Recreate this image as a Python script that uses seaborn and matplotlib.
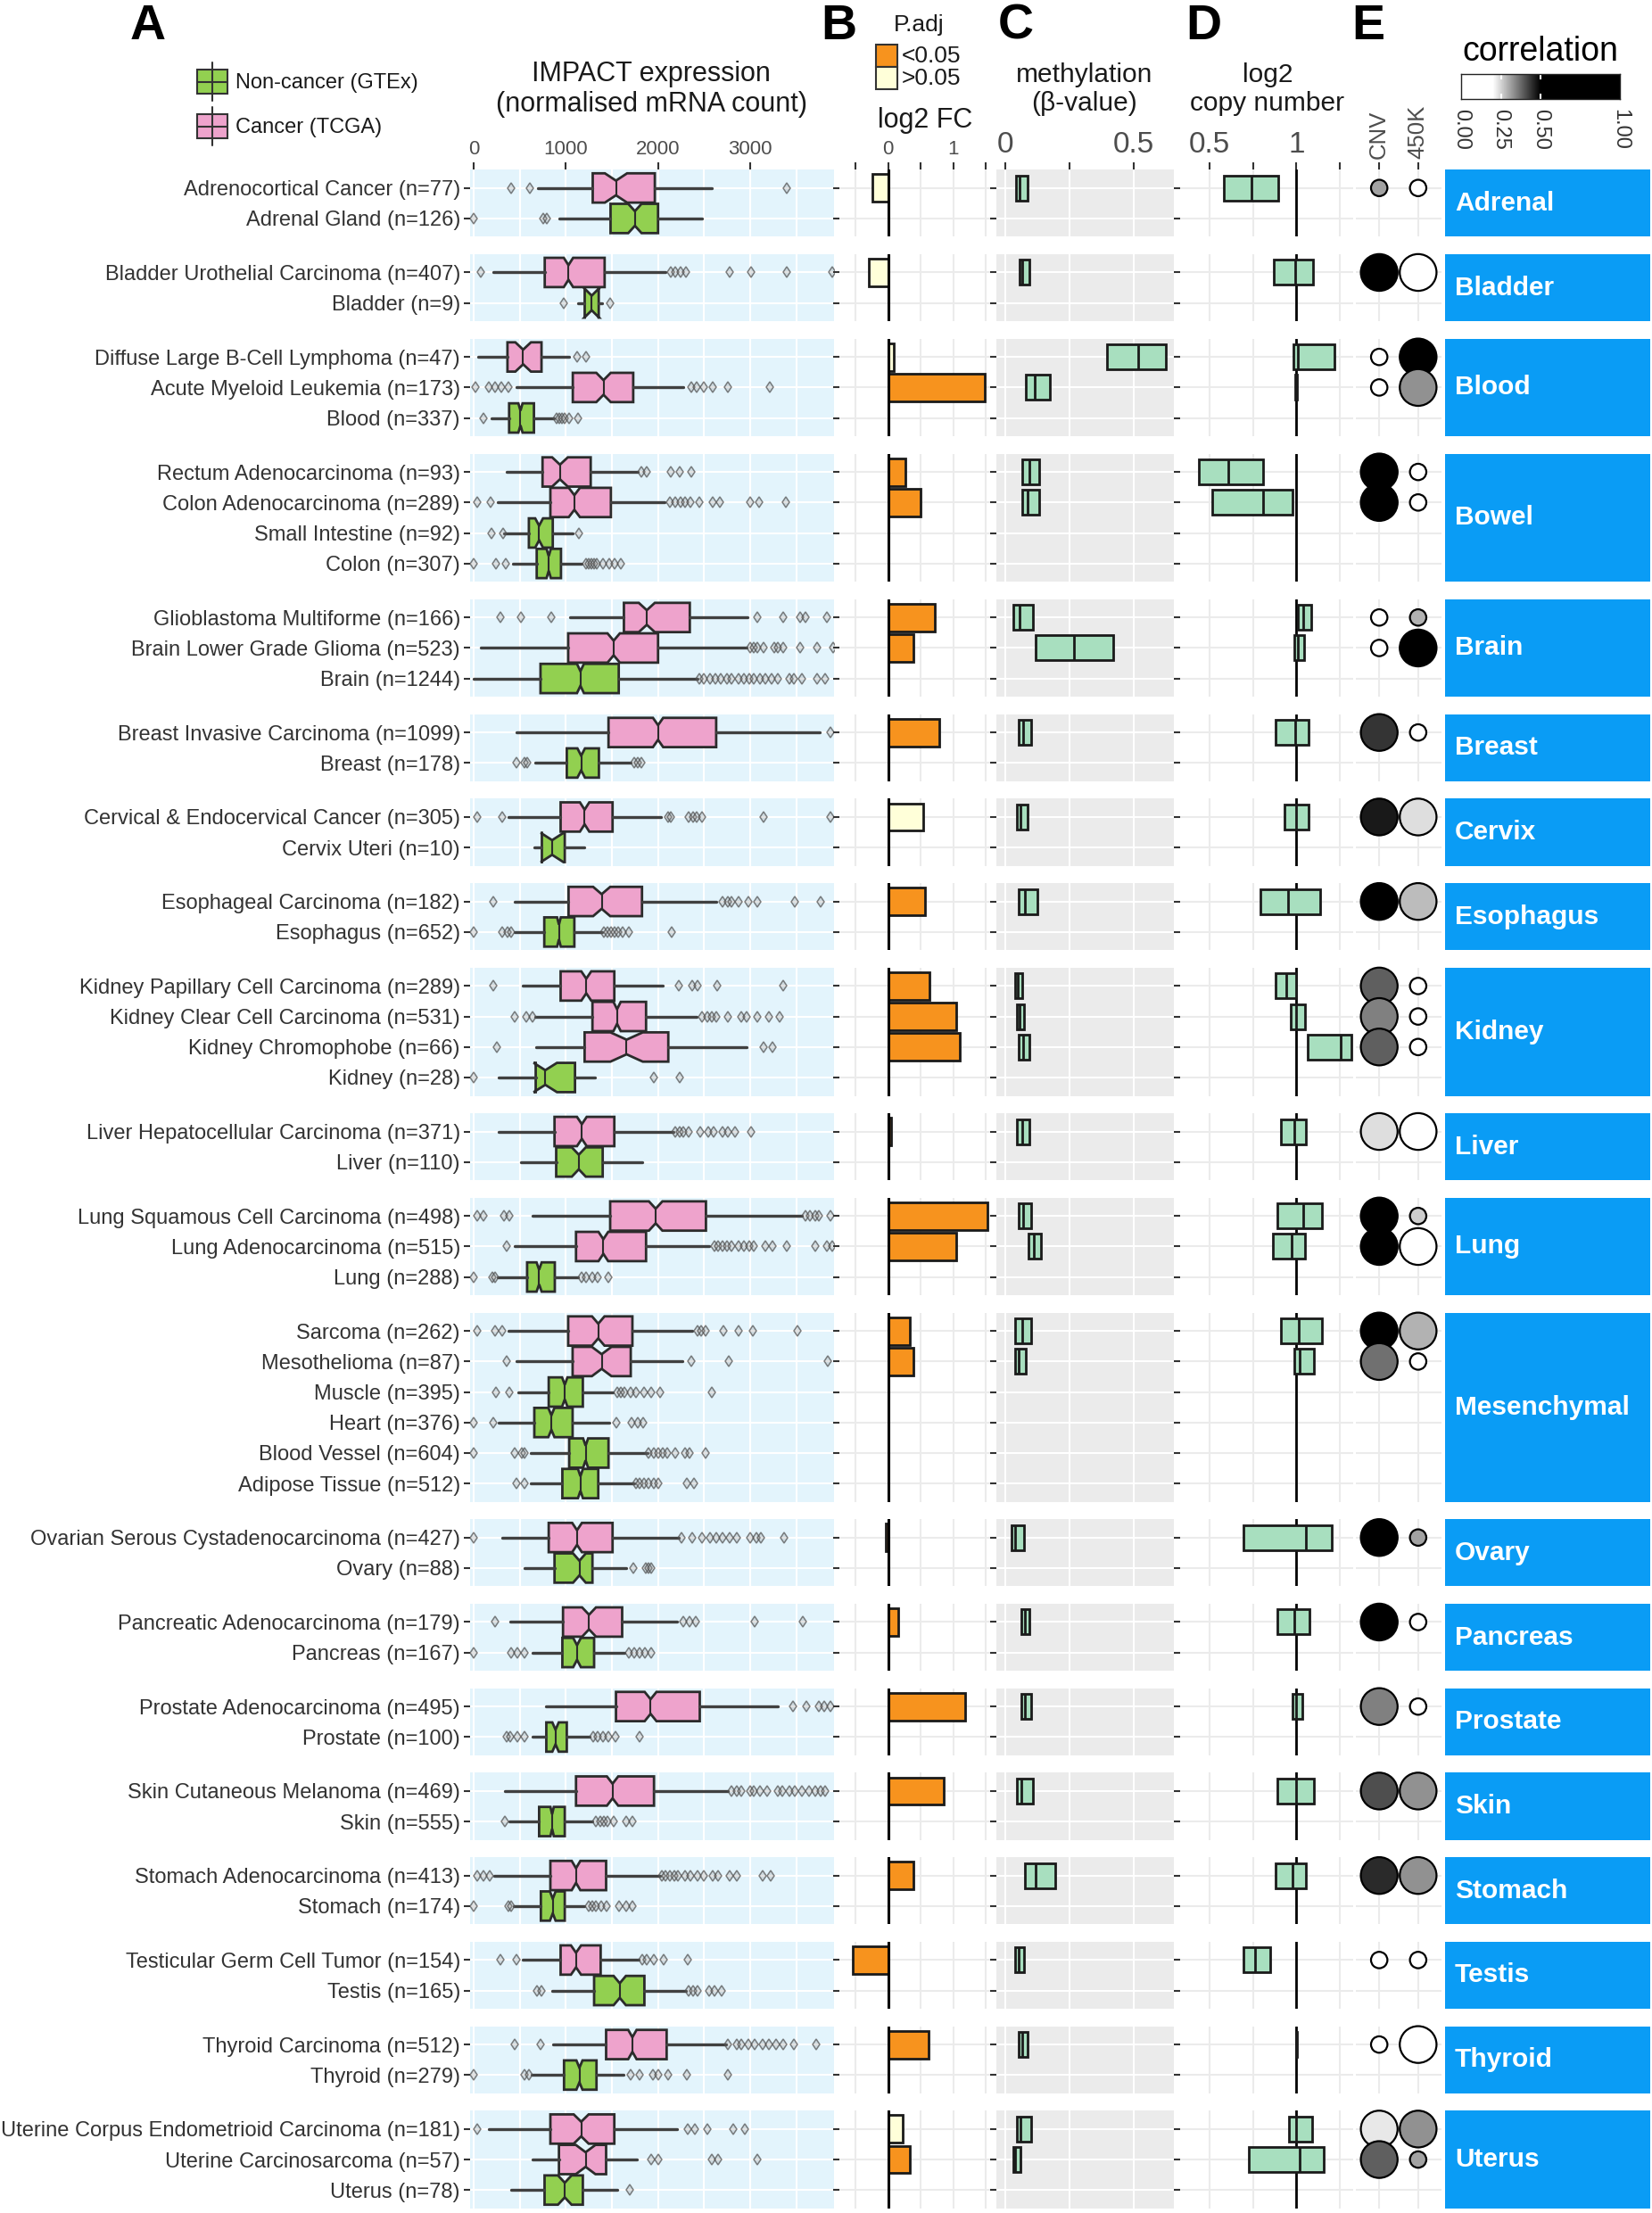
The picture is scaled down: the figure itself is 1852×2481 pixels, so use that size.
import numpy as np
import pandas as pd
import matplotlib
matplotlib.use("Agg")
import matplotlib.pyplot as plt
from matplotlib.colors import LinearSegmentedColormap
from matplotlib.patches import Rectangle
from matplotlib.lines import Line2D
import seaborn as sns

# ---------------- data ----------------
group_names = ["Adrenal", "Bladder", "Blood", "Bowel", "Brain", "Breast", "Cervix", "Esophagus",
               "Kidney", "Liver", "Lung", "Mesenchymal", "Ovary", "Pancreas", "Prostate", "Skin",
               "Stomach", "Testis", "Thyroid", "Uterus"]
group_sizes = [2, 2, 3, 4, 3, 2, 2, 2, 4, 2, 3, 6, 2, 2, 2, 2, 2, 2, 2, 3]

row_names = [
    "Adrenocortical Cancer", "Adrenal Gland",
    "Bladder Urothelial Carcinoma", "Bladder",
    "Diffuse Large B-Cell Lymphoma", "Acute Myeloid Leukemia", "Blood",
    "Rectum Adenocarcinoma", "Colon Adenocarcinoma", "Small Intestine", "Colon",
    "Glioblastoma Multiforme", "Brain Lower Grade Glioma", "Brain",
    "Breast Invasive Carcinoma", "Breast",
    "Cervical & Endocervical Cancer", "Cervix Uteri",
    "Esophageal Carcinoma", "Esophagus",
    "Kidney Papillary Cell Carcinoma", "Kidney Clear Cell Carcinoma", "Kidney Chromophobe", "Kidney",
    "Liver Hepatocellular Carcinoma", "Liver",
    "Lung Squamous Cell Carcinoma", "Lung Adenocarcinoma", "Lung",
    "Sarcoma", "Mesothelioma", "Muscle", "Heart", "Blood Vessel", "Adipose Tissue",
    "Ovarian Serous Cystadenocarcinoma", "Ovary",
    "Pancreatic Adenocarcinoma", "Pancreas",
    "Prostate Adenocarcinoma", "Prostate",
    "Skin Cutaneous Melanoma", "Skin",
    "Stomach Adenocarcinoma", "Stomach",
    "Testicular Germ Cell Tumor", "Testis",
    "Thyroid Carcinoma", "Thyroid",
    "Uterine Corpus Endometrioid Carcinoma", "Uterine Carcinosarcoma", "Uterus",
]
row_n = [77, 126, 407, 9, 47, 173, 337, 93, 289, 92, 307, 166, 523, 1244, 1099, 178, 305, 10,
         182, 652, 289, 531, 66, 28, 371, 110, 498, 515, 288, 262, 87, 395, 376, 604, 512,
         427, 88, 179, 167, 495, 100, 469, 555, 413, 174, 154, 165, 512, 279, 181, 57, 78]
row_cancer = [1, 0, 1, 0, 1, 1, 0, 1, 1, 0, 0, 1, 1, 0, 1, 0, 1, 0, 1, 0, 1, 1, 1, 0, 1, 0,
              1, 1, 0, 1, 1, 0, 0, 0, 0, 1, 0, 1, 0, 1, 0, 1, 0, 1, 0, 1, 0, 1, 0, 1, 1, 0]

# IMPACT expression box statistics
expr_whislo = [696, 930, 211, 1135, 53, 462, 199, 359, 259, 326, 426, 1048, 81, 0, 463, 667,
               381, 659, 444, 444, 530, 667, 678, 270, 270, 511, 641, 444, 259, 381, 463, 481,
               270, 622, 622, 315, 556, 400, 641, 785, 641, 341, 393, 222, 437, 537, 852, 859,
               630, 167, 641, 407]
expr_q1 = [1292, 1485, 772, 1205, 368, 1076, 386, 748, 833, 600, 685, 1630, 1026, 726, 1463,
           1011, 944, 741, 1030, 767, 944, 1289, 1204, 674, 878, 896, 1481, 1111, 581, 1026,
           1074, 815, 659, 1037, 963, 815, 878, 970, 963, 1544, 789, 1111, 711, 833, 730, 944,
           1307, 1437, 981, 833, 926, 770]
expr_med = [1544, 1749, 1029, 1281, 538, 1409, 509, 937, 1093, 711, 815, 1878, 1519, 1159, 2000,
            1167, 1204, 852, 1389, 926, 1222, 1556, 1659, 778, 1174, 1141, 1974, 1407, 711, 1352,
            1389, 989, 844, 1215, 1159, 1122, 1148, 1252, 1122, 1919, 889, 1507, 852, 1111, 859,
            1111, 1585, 1722, 1148, 1167, 1215, 989]
expr_q3 = [1965, 2000, 1421, 1357, 737, 1731, 655, 1270, 1489, 859, 948, 2344, 2000, 1574, 2630,
           1359, 1507, 989, 1826, 1093, 1526, 1870, 2111, 1100, 1526, 1400, 2519, 1870, 881, 1722,
           1704, 1185, 1074, 1463, 1352, 1507, 1289, 1611, 1307, 2452, 1011, 1956, 989, 1437, 989,
           1378, 1852, 2093, 1333, 1526, 1437, 1185]
expr_whishi = [2585, 2480, 2082, 1395, 1035, 2275, 871, 1785, 2074, 1074, 1167, 2970, 2956, 2426,
               3748, 1704, 2030, 1204, 2630, 1389, 2048, 2419, 2956, 1315, 2167, 1833, 3556, 2556,
               1130, 2370, 2259, 1507, 1470, 1889, 1741, 2222, 1659, 2204, 1637, 3296, 1259, 2752,
               1289, 2019, 1204, 1789, 2304, 2741, 1630, 2204, 1774, 1556]
expr_fliers = [
    [409, 608, 3398], [0, 755, 795],
    [82, 2140, 2190, 2240, 2300, 2772, 3006, 3398, 3883], [977, 1485],
    [1123, 1222], [18, 170, 230, 300, 374, 2362, 2420, 2500, 2596, 2760, 3210],
    [111, 900, 930, 960, 990, 1040, 1134],
    [1815, 1878, 2140, 2233, 2363],
    [37, 185, 2130, 2185, 2240, 2290, 2350, 2444, 2593, 2667, 3000, 3093, 3389],
    [193, 320, 1141],
    [0, 248, 352, 1222, 1250, 1280, 1310, 1333, 1407, 1470, 1530, 1593],
    [296, 511, 844, 3074, 3352, 3537, 3593, 3833],
    [3000, 3040, 3080, 3148, 3259, 3300, 3352, 3544, 3722, 3900],
    [2450, 2500, 2560, 2620, 2680, 2750, 2800, 2870, 2930, 2990, 3040, 3100, 3160, 3230, 3300,
     3426, 3470, 3556, 3722, 3815],
    [3870], [463, 556, 585, 1740, 1780, 1815],
    [37, 315, 2111, 2140, 2333, 2380, 2420, 2481, 3141, 3870], [],
    [211, 2700, 2760, 2800, 2870, 2980, 3074, 3481, 3759],
    [0, 315, 370, 410, 1410, 1450, 1490, 1530, 1570, 1620, 1685, 2148],
    [211, 2222, 2370, 2426, 2641, 3352],
    [444, 574, 640, 2481, 2530, 2580, 2630, 2752, 2900, 2960, 3074, 3204, 3315],
    [252, 3141, 3241], [0, 1956, 2233],
    [2190, 2230, 2270, 2333, 2456, 2540, 2600, 2700, 2760, 2833, 3011], [],
    [37, 111, 333, 389, 3600, 3650, 3700, 3741, 3870],
    [363, 2611, 2650, 2700, 2750, 2800, 2870, 2930, 2990, 3037, 3167, 3241, 3396, 3704, 3833, 3889],
    [0, 204, 230, 1167, 1220, 1290, 1350, 1463],
    [37, 230, 315, 2426, 2470, 2519, 2704, 2870, 3030, 3511],
    [363, 2363, 2770, 3844],
    [248, 389, 1556, 1600, 1640, 1700, 1760, 1852, 1926, 2018, 2581],
    [0, 211, 1544, 1715, 1780, 1840],
    [0, 444, 520, 556, 1900, 1950, 2000, 2050, 2100, 2185, 2296, 2340, 2511],
    [463, 548, 1760, 1800, 1850, 1900, 1950, 2000, 2315, 2389],
    [0, 2250, 2370, 2481, 2560, 2630, 2700, 2780, 2850, 3000, 3070, 3111, 3370],
    [1730, 1870, 1900, 1926],
    [233, 2278, 2340, 2407, 3048, 3567],
    [0, 407, 480, 556, 1685, 1740, 1800, 1860, 1926],
    [3463, 3604, 3741, 3800, 3870],
    [363, 400, 480, 556, 1300, 1350, 1400, 1460, 1537, 1804],
    [2796, 2850, 2900, 3000, 3040, 3100, 3180, 3300, 3350, 3420, 3480, 3560, 3640, 3700, 3760, 3815],
    [337, 1330, 1370, 1410, 1450, 1519, 1652, 1726],
    [37, 111, 180, 2037, 2080, 2130, 2180, 2220, 2290, 2350, 2430, 2500, 2592, 2650, 2780, 2852,
     3130, 3222],
    [0, 374, 410, 1252, 1290, 1330, 1380, 1444, 1574, 1650, 1722],
    [296, 463, 1830, 1880, 1950, 2056, 2322],
    [685, 733, 2333, 2380, 2430, 2550, 2610, 2685],
    [444, 722, 2759, 2850, 2900, 2980, 3050, 3130, 3200, 3280, 3352, 3474, 3715],
    [0, 548, 600, 1704, 1796, 1944, 2000, 2111, 2315, 2752],
    [37, 2322, 2400, 2537, 2815, 2944],
    [1926, 2000, 2581, 2648, 3074],
    [1696],
]

# values for the 28 cancer rows (same order as they appear)
log2_fc = [-0.24, -0.30, 0.08, 1.49, 0.26, 0.50, 0.72, 0.39, 0.79, 0.54, 0.57, 0.64, 1.04, 1.10,
           0.05, 1.53, 1.04, 0.33, 0.39, -0.04, 0.15, 1.18, 0.86, 0.39, -0.54, 0.62, 0.22, 0.33]
padj_low = [0, 0, 0, 1, 1, 1, 1, 1, 1, 0, 1, 1, 1, 1, 1, 1, 1, 1, 1, 1, 1, 1, 1, 1, 1, 1, 0, 1]

meth_q1 = [0.042, 0.056, 0.395, 0.081, 0.066, 0.066, 0.033, 0.119, 0.053, 0.046, 0.053, 0.038,
           0.045, 0.053, 0.046, 0.053, 0.093, 0.038, 0.038, 0.026, 0.063, 0.063, 0.046, 0.078,
           0.038, 0.053, 0.046, 0.033]
meth_med = [0.057, 0.066, 0.516, 0.115, 0.094, 0.088, 0.058, 0.268, 0.071, 0.061, 0.079, 0.050,
            0.058, 0.071, 0.066, 0.071, 0.113, 0.066, 0.055, 0.041, 0.079, 0.079, 0.063, 0.119,
            0.053, 0.066, 0.061, 0.041]
meth_q3 = [0.088, 0.094, 0.623, 0.174, 0.132, 0.132, 0.108, 0.420, 0.103, 0.088, 0.127, 0.068,
           0.075, 0.094, 0.094, 0.101, 0.141, 0.101, 0.081, 0.075, 0.096, 0.103, 0.108, 0.194,
           0.075, 0.088, 0.101, 0.061]

cn_q1 = [0.586, 0.871, 0.980, 0.995, 0.439, 0.517, 1.007, 0.990, 0.880, 0.929, 0.794, 0.880,
         0.968, 1.064, 0.909, 0.890, 0.863, 0.909, 0.990, 0.696, 0.890, 0.978, 0.890, 0.880,
         0.696, 0.998, 0.958, 0.725]
cn_med = [0.741, 0.995, 1.010, 1.000, 0.610, 0.806, 1.037, 1.010, 0.995, 1.000, 0.951, 0.939,
          1.000, 1.255, 0.990, 1.037, 0.971, 1.012, 1.020, 1.056, 0.990, 1.000, 1.000, 0.978,
          0.765, 1.000, 1.000, 1.020]
cn_q3 = [0.896, 1.094, 1.220, 1.003, 0.806, 0.978, 1.086, 1.044, 1.069, 1.069, 1.135, 1.000,
         1.049, 1.316, 1.056, 1.147, 1.049, 1.147, 1.098, 1.203, 1.076, 1.032, 1.098, 1.056,
         0.848, 1.005, 1.088, 1.154]

cnv_r = [0.31, 0.60, 0.00, 0.00, 0.60, 0.60, 0.00, 0.00, 0.44, 0.47, 0.60, 0.39, 0.35, 0.39,
         0.24, 0.60, 0.60, 0.60, 0.37, 0.60, 0.60, 0.35, 0.41, 0.45, 0.00, 0.00, 0.23, 0.39]
cnv_sig = [0, 1, 0, 0, 1, 1, 0, 0, 1, 1, 1, 1, 1, 1, 1, 1, 1, 1, 1, 1, 1, 1, 1, 1, 0, 0, 1, 1]
meth_r = [0.00, -0.30, 0.60, 0.33, 0.00, 0.00, 0.29, 0.60, 0.00, 0.24, 0.28, 0.00, 0.00, 0.00,
          -0.20, 0.26, -0.20, 0.29, 0.00, 0.31, 0.00, 0.00, 0.33, 0.33, 0.00, -0.20, 0.33, 0.31]
meth_sig = [0, 1, 1, 1, 0, 0, 0, 1, 0, 1, 1, 0, 0, 0, 1, 0, 1, 1, 0, 0, 0, 0, 1, 1, 0, 1, 1, 0]

# ---------------- style ----------------
sns.set_style("white")
plt.rcParams['font.family'] = ['Liberation Sans', 'DejaVu Sans']

PINK, GREEN = '#eea3cc', '#92d050'
MINT = '#a8dfbf'
ORANGE, CREAM = '#f7931e', '#ffffd9'
STRIP = '#0a9cf5'
EDGE = '#2b2b2b'
corr_cmap = LinearSegmentedColormap.from_list(
    'corr', [(0, 'white'), (0.2, 'white'), (0.5, 'black'), (1, 'black')])

W, H = 1852, 2481
fig = plt.figure(figsize=(W / 100, H / 100), dpi=100)


def px_axes(x0, y0, w, h):
    return fig.add_axes([x0 / W, 1 - (y0 + h) / H, w / W, h / H])


def hbox(ax, stats, pos, width, **kw):
    try:
        return ax.bxp(stats, positions=pos, widths=width, orientation='horizontal',
                      manage_ticks=False, **kw)
    except TypeError:
        return ax.bxp(stats, positions=pos, widths=width, vert=False, manage_ticks=False, **kw)


def base_axis(ax, n, xlim, face, grid_col, xt, xt_minor=(), left_ticks=True):
    ax.set_facecolor(face)
    for s in ax.spines.values():
        s.set_visible(False)
    ax.set_xlim(*xlim)
    ax.set_ylim(n - 0.4, -0.6)
    ax.set_xticks(xt)
    ax.set_xticks(list(xt_minor), minor=True)
    ax.set_yticks(range(n))
    ax.grid(True, which='both', color=grid_col, linewidth=1.5)
    ax.set_axisbelow(True)
    ax.tick_params(axis='x', which='both', bottom=False, labelbottom=False, top=False, labeltop=False)
    ax.tick_params(axis='x', which='minor', length=0)
    ax.tick_params(axis='y', left=left_ticks, labelleft=False, length=5, width=1.5, color='#333333')


def top_axis(ax, labels, size, rot=0):
    ax.set_xticklabels(labels)
    ax.tick_params(axis='x', which='major', top=True, labeltop=True, length=6, width=1.5,
                   color='#333333', labelsize=size, labelcolor='#4d4d4d', pad=3, labelrotation=rot)


TOP, U, GAP = 190.2, 34.2, 0.57
XA, XB, XC, XD, XE, XS = (527, 935), (941, 1111), (1117, 1316), (1323, 1517), (1520, 1616), (1620, 1850)
cancer_pos = np.cumsum(row_cancer) - 1

y_top = TOP
row0 = 0
for g, (gname, n) in enumerate(zip(group_names, group_sizes)):
    h = (n + 0.2) * U
    rows = list(range(row0, row0 + n))
    first = g == 0
    c_rows = [i for i, r in enumerate(rows) if row_cancer[r]]
    c_idx = [cancer_pos[rows[i]] for i in c_rows]

    # --- A: expression boxplots ---
    axA = px_axes(XA[0], y_top, XA[1] - XA[0], h)
    base_axis(axA, n, (-37, 3907), '#e3f4fc', 'white', [0, 1000, 2000, 3000], [500, 1500, 2500, 3500])
    stats = []
    for r in rows:
        half = 1.57 * (expr_q3[r] - expr_q1[r]) / np.sqrt(row_n[r])
        stats.append(dict(med=expr_med[r], q1=expr_q1[r], q3=expr_q3[r],
                          whislo=expr_whislo[r], whishi=expr_whishi[r],
                          fliers=np.array(expr_fliers[r], dtype=float),
                          cilo=expr_med[r] - half, cihi=expr_med[r] + half))
    bp = hbox(axA, stats, list(range(n)), 0.96, patch_artist=True, shownotches=True,
              showcaps=False,
              boxprops=dict(edgecolor=EDGE, linewidth=2),
              whiskerprops=dict(color='#404040', linewidth=2.4),
              medianprops=dict(color=EDGE, linewidth=1.5),
              flierprops=dict(marker='d', markerfacecolor=(0.55, 0.55, 0.55, 0.25),
                              markeredgecolor=(0.3, 0.3, 0.3, 0.7),
                              markersize=6, markeredgewidth=1.1))
    for patch, r in zip(bp['boxes'], rows):
        patch.set_facecolor(PINK if row_cancer[r] else GREEN)
    axA.set_yticklabels([f"{row_names[r]} (n={row_n[r]})" for r in rows])
    axA.tick_params(axis='y', labelleft=True, labelsize=17, labelcolor='#333333', pad=3)
    if first:
        top_axis(axA, ['0', '1000', '2000', '3000'], 16)

    # --- B: log2 fold change bars ---
    axB = px_axes(XB[0], y_top, XB[1] - XB[0], h)
    base_axis(axB, n, (-0.75, 1.58), 'white', '#ebebeb', [-0.5, 0, 0.5, 1, 1.5])
    axB.barh(c_rows, [log2_fc[k] for k in c_idx], height=0.9,
             color=[ORANGE if padj_low[k] else CREAM for k in c_idx],
             edgecolor='#1a1a1a', linewidth=2, zorder=2)
    axB.axvline(0, color='black', linewidth=2.2, zorder=3)
    if first:
        top_axis(axB, ['', '0', '', '1', ''], 16)

    # --- C: methylation ---
    axC = px_axes(XC[0], y_top, XC[1] - XC[0], h)
    base_axis(axC, n, (-0.033, 0.655), '#ebebeb', 'white', [0, 0.25, 0.5])
    if c_rows:
        st = [dict(med=meth_med[k], q1=meth_q1[k], q3=meth_q3[k], whislo=meth_q1[k],
                   whishi=meth_q3[k], fliers=[]) for k in c_idx]
        hbox(axC, st, c_rows, 0.82, patch_artist=True, showcaps=False, showfliers=False,
             boxprops=dict(facecolor=MINT, edgecolor='#1a1a1a', linewidth=2),
             medianprops=dict(color='#1a1a1a', linewidth=2),
             whiskerprops=dict(linewidth=0))
    if first:
        top_axis(axC, ['0', '', '0.5'], 24)

    # --- D: copy number ---
    axD = px_axes(XD[0], y_top, XD[1] - XD[0], h)
    base_axis(axD, n, (0.333, 1.325), 'white', '#ebebeb', [0.5, 0.75, 1, 1.25])
    axD.axvline(1, color='black', linewidth=2, zorder=1.5)
    if c_rows:
        st = [dict(med=cn_med[k], q1=cn_q1[k], q3=cn_q3[k], whislo=cn_q1[k],
                   whishi=cn_q3[k], fliers=[]) for k in c_idx]
        hbox(axD, st, c_rows, 0.82, patch_artist=True, showcaps=False, showfliers=False,
             boxprops=dict(facecolor=MINT, edgecolor='#1a1a1a', linewidth=2),
             medianprops=dict(color='#1a1a1a', linewidth=2),
             whiskerprops=dict(linewidth=0))
    if first:
        top_axis(axD, ['0.5', '', '1', ''], 24)

    # --- E: correlation circles ---
    axE = px_axes(XE[0], y_top, XE[1] - XE[0], h)
    base_axis(axE, n, (-0.6, 1.6), 'white', '#ebebeb', [0, 1], left_ticks=False)
    if c_rows:
        sub = pd.DataFrame({
            'x': [0] * len(c_idx) + [1] * len(c_idx),
            'y': c_rows + c_rows,
            'r': [cnv_r[k] for k in c_idx] + [meth_r[k] for k in c_idx],
            'sig': ['sig' if cnv_sig[k] else 'ns' for k in c_idx]
                   + ['sig' if meth_sig[k] else 'ns' for k in c_idx],
        })
        sns.scatterplot(data=sub, x='x', y='y', hue='r', palette=corr_cmap, hue_norm=(0, 1),
                        size='sig', sizes={'sig': 880, 'ns': 175}, edgecolor='black',
                        linewidth=1.6, legend=False, ax=axE, zorder=3, clip_on=False)
    axE.set_xlim(-0.6, 1.6)
    axE.set_ylim(n - 0.4, -0.6)
    axE.set_xlabel('')
    axE.set_ylabel('')
    if first:
        top_axis(axE, ['CNV', '450K'], 18.5, rot=90)

    # --- strip ---
    axS = px_axes(XS[0], y_top, XS[1] - XS[0], h)
    axS.set_facecolor(STRIP)
    axS.set_xticks([])
    axS.set_yticks([])
    for s in axS.spines.values():
        s.set_visible(False)
    axS.text(0.048, 0.5, gname, transform=axS.transAxes, ha='left', va='center',
             color='white', fontsize=21.5, fontweight='bold')

    y_top += h + GAP * U
    row0 += n

# ---------------- colour bar ----------------
cax = px_axes(1638, 83, 178, 28)
cax.imshow(np.linspace(0, 1, 256)[None, :], cmap=corr_cmap, aspect='auto', extent=(0, 1, 0, 1))
cax.set_xlim(0, 1)
cax.set_ylim(0, 1)
cax.set_yticks([])
cax.set_xticks([0, 0.25, 0.5, 1])
cax.set_xticklabels(['0.00', '0.25', '0.50', '1.00'], rotation=-90)
cax.tick_params(axis='x', length=0, labelsize=17, labelcolor='#333333', pad=8)
cax.vlines([0.25, 0.5], 0, 0.2, color='white', linewidth=1.5)
cax.vlines([0.25, 0.5], 0.8, 1, color='white', linewidth=1.5)
for s in cax.spines.values():
    s.set_color('#222222')
    s.set_linewidth(1)

# ---------------- titles, legends, panel letters ----------------
ov = fig.add_axes([0, 0, 1, 1])
ov.set_xlim(0, W)
ov.set_ylim(H, 0)
ov.axis('off')

for letter, x in zip("ABCDE", [166, 940, 1139, 1349, 1534]):
    ov.text(x, 44, letter, ha='center', va='baseline', fontsize=40, fontweight='bold', color='black')

ov.text(730, 100, "IMPACT expression\n(normalised mRNA count)", ha='center', va='center',
        fontsize=22, linespacing=1.15, color='#1a1a1a')
ov.text(1037, 135, "log2 FC", ha='center', va='center', fontsize=22, color='#1a1a1a')
ov.text(1216, 100, "methylation\n(β-value)", ha='center', va='center', fontsize=21.5,
        linespacing=1.15, color='#1a1a1a')
ov.text(1421, 100, "log2\ncopy number", ha='center', va='center', fontsize=21.5,
        linespacing=1.15, color='#1a1a1a')
ov.text(1727, 58, "correlation", ha='center', va='center', fontsize=27, color='black')

# P.adj legend
ov.text(1030, 28, "P.adj", ha='center', va='center', fontsize=19, color='#1a1a1a')
for yy, col, lab in [(50, ORANGE, "<0.05"), (75, CREAM, ">0.05")]:
    ov.add_patch(Rectangle((982, yy), 24, 25, facecolor=col, edgecolor='#333333', linewidth=1.5))
    ov.text(1011, yy + 13, lab, ha='left', va='center', fontsize=19, color='#1a1a1a')

# box legend
for yy, col, lab in [(78, GREEN, "Non-cancer (GTEx)"), (128, PINK, "Cancer (TCGA)")]:
    ov.add_line(Line2D([238, 238], [yy - 8, yy + 35], color='#333333', linewidth=1.5))
    ov.add_patch(Rectangle((221, yy), 34, 27, facecolor=col, edgecolor='#333333', linewidth=1.5))
    ov.add_line(Line2D([221, 255], [yy + 13.5, yy + 13.5], color='#333333', linewidth=1.5))
    ov.text(264, yy + 15, lab, ha='left', va='center', fontsize=17, color='#1a1a1a')

fig.savefig("out.png", dpi=100)
